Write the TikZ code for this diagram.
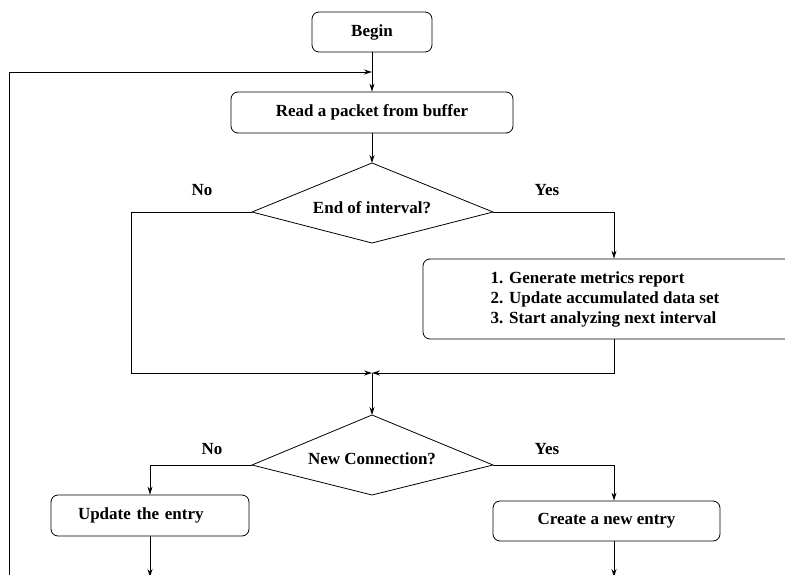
\documentclass[tikz,border=0pt]{standalone}
\usepackage{fontspec}
\setmainfont{Liberation Serif}
\usepackage{tikz}
\usetikzlibrary{arrows.meta,calc}
\tikzset{box/.style={draw,rounded corners=7pt,inner sep=0pt,font=\bfseries\fontsize{17}{20}\selectfont}}
\tikzset{lbl/.style={font=\bfseries\fontsize{17}{20}\selectfont}}

\begin{document}
\begin{tikzpicture}[x=1pt,y=-1pt,>={Stealth[length=8pt,width=5pt]},line width=0.8pt]
    \useasboundingbox (0,0) rectangle (785,575);
    \clip (0,0) rectangle (785,575);
    \node[box,minimum width=120pt,minimum height=40pt] (begin) at (372,32) {Begin};
    \node[box,minimum width=282pt,minimum height=41pt] (read) at (372,112.5) {Read a packet from buffer};
    \node[box,minimum width=382pt,minimum height=80pt] (report) at (614,299) {};
    \node[lbl,align=left,anchor=west] (steps) at (487,299) {1. Generate metrics report\\2. Update accumulated data set\\3. Start analyzing next interval};
    \node[box,minimum width=198pt,minimum height=41pt,text width=144pt,inner xsep=27pt,align=left] (update) at (150,515.5) {Update the entry};
    \node[box,minimum width=227pt,minimum height=40pt] (create) at (606.5,521) {Create a new entry};

    % decisions
    \coordinate (int-n) at (372,163);
    \coordinate (int-w) at (252,212);
    \coordinate (int-e) at (493,212);
    \coordinate (int-s) at (372,243);
    \draw (int-n) -- (int-e) -- (int-s) -- (int-w) -- cycle;
    \node[lbl] (interval) at (372,208) {End of interval?};
    \coordinate (nc-n) at (372,415);
    \coordinate (nc-w) at (252,465);
    \coordinate (nc-e) at (493,465);
    \coordinate (nc-s) at (372,495);
    \draw (nc-n) -- (nc-e) -- (nc-s) -- (nc-w) -- cycle;
    \node[lbl] (newconn) at (372,459) {New Connection?};

    \node[lbl] (no1) at (202,190) {No};
    \node[lbl] (yes1) at (547,190) {Yes};
    \node[lbl] (no2) at (212,449) {No};
    \node[lbl] (yes2) at (547,449) {Yes};

    \coordinate (join) at (372,72);
    \coordinate (merge) at (372,373);
    \coordinate (nobend) at (131,373);
    \coordinate (loop) at (9,577);

    \draw [->] (begin) -- (read);
    \draw [->] (loop) |- (join);
    \draw [->] (read) -- (int-n);
    \draw [->] (int-w) -| (nobend) -- (merge);
    \draw [->] (int-e) -| (report);
    \draw [->] (report) |- (merge);
    \draw [->] (merge) -- (nc-n);
    \draw [->] (nc-w) -| (update);
    \draw [->] (nc-e) -| ([xshift=7.5pt]create.north);
    \draw [->] (update) -- (update |- loop);
    \draw [->] ([xshift=7.5pt]create.south) -- ([xshift=7.5pt]create.south |- loop);
\end{tikzpicture}
\end{document}
